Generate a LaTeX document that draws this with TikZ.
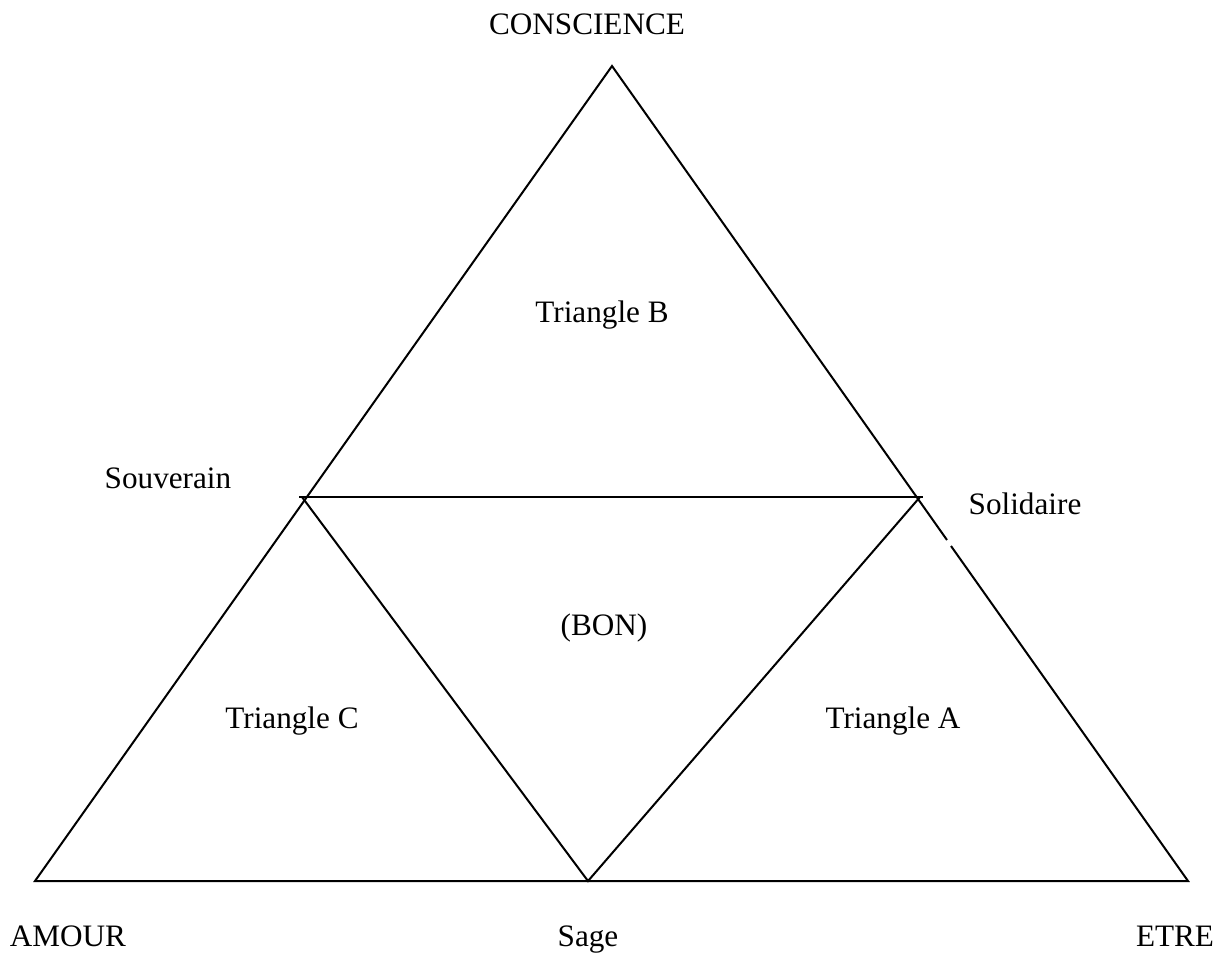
\documentclass[tikz,border=0pt]{standalone}
\usepackage{fontspec}
\setmainfont{Liberation Serif}
\usetikzlibrary{calc}

\begin{document}
\begin{tikzpicture}
[x=0.5bp,y=-0.5bp,
% Styles
edge line/.style={line width=1bp},
label text/.style={anchor=base,inner sep=0pt,font=\fontsize{15.6bp}{18bp}\selectfont}]
\useasboundingbox (0,0) rectangle (1228,955);
% Vertices
\coordinate (conscience) at (612,66);
\coordinate (amour) at (35,881);
\coordinate (etre) at (1188,881);
\coordinate (sage) at (588,881);
\coordinate (souverain) at (302,497);
\coordinate (solidaire) at (920,497);
% the small break on the right side
\coordinate (break top) at (947,540);
\coordinate (break bottom) at (951,546);
% The graphic
\draw[edge line] (break top) -- (conscience) -- (amour) -- (etre) -- (break bottom);
\draw[edge line] ($(souverain)+(-3,0)$) -- ($(solidaire)+(3,0)$);
\draw[edge line] (souverain) -- (sage) -- (solidaire);
% Labels
\node[label text] (conscience text) at (587,34) {CONSCIENCE};
\node[label text] (triangle b) at (602,322) {Triangle B};
\node[label text] (souverain text) at (168,488) {Souverain};
\node[label text] (solidaire text) at (1025,514) {Solidaire};
\node[label text] (bon) at (604,635) {(BON)};
\node[label text] (triangle c) at (292,728) {Triangle C};
\node[label text] (triangle a) at (893,728) {Triangle A};
\node[label text] (amour text) at (68,946) {AMOUR};
\node[label text] (sage text) at (588,946) {Sage};
\node[label text] (etre text) at (1175,946) {ETRE};
\end{tikzpicture}
\end{document}
